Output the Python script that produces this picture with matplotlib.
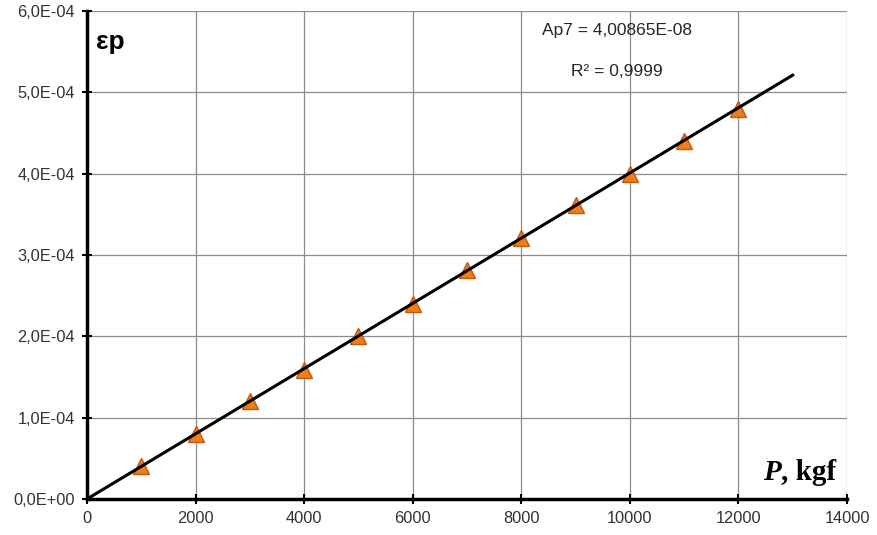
import matplotlib
matplotlib.use("Agg")
import matplotlib.pyplot as plt
import numpy as np
from matplotlib.ticker import FuncFormatter, MultipleLocator

P = [1000, 2000, 3000, 4000, 5000, 6000, 7000, 8000, 9000, 10000, 11000, 12000]
eps = [4.0e-5, 8.0e-5, 1.2e-4, 1.59e-4, 2.0e-4, 2.4e-4, 2.81e-4, 3.21e-4, 3.61e-4, 4.0e-4, 4.4e-4, 4.8e-4]
slope = 4.00865e-08
fit_x = [0, 13000]

plt.rcParams['font.family'] = ['Liberation Sans', 'DejaVu Sans']

fig = plt.figure(figsize=(8.78, 5.35), dpi=100)
ax = fig.add_axes([87/878, 1 - 499/535, (847-87)/878, (499-11)/535])

ax.set_xlim(0, 14000)
ax.set_ylim(0, 6e-4)
ax.xaxis.set_major_locator(MultipleLocator(2000))
ax.yaxis.set_major_locator(MultipleLocator(1e-4))
ax.grid(True, color='#8c8c8c', linewidth=0.9)
ax.set_axisbelow(True)

def yfmt(v, pos):
    s = "%.1E" % v
    return s.replace('.', ',')
ax.yaxis.set_major_formatter(FuncFormatter(yfmt))
ax.xaxis.set_major_formatter(FuncFormatter(lambda v, p: "%d" % v))

for s in ['top', 'right']:
    ax.spines[s].set_visible(False)
for s in ['left', 'bottom']:
    ax.spines[s].set_linewidth(2.5)
    ax.spines[s].set_color('black')
ax.tick_params(axis='both', direction='inout', length=7, width=1.5, labelsize=11.8,
               color='black', labelcolor='#333333')
ax.tick_params(axis='x', pad=5)
ax.tick_params(axis='y', pad=5)

ax.plot(P, eps, linestyle='none', marker='^', markersize=11,
        markerfacecolor='#F07D1A', markeredgecolor='#C0580E', markeredgewidth=1, zorder=3)
ax.plot(fit_x, [slope * x for x in fit_x], color='black', linewidth=2.2, zorder=4, clip_on=False)

ax.text(617/878, 1 - 31/535, "Ap7 = 4,00865E-08", transform=fig.transFigure,
        ha='center', va='center', fontsize=12.5, color='#262626')
ax.text(617/878, 1 - 71/535, "R² = 0,9999", transform=fig.transFigure,
        ha='center', va='center', fontsize=12.5, color='#262626')
ax.text(96/878, 1 - 42/535, "εp", transform=fig.transFigure,
        ha='left', va='center', fontsize=19, fontweight='bold')
ax.text(781/878, 1 - 472/535, ", kgf", transform=fig.transFigure,
        ha='left', va='center', fontsize=21, fontweight='bold', family='Liberation Serif')
ax.text(781/878, 1 - 472/535, "P", transform=fig.transFigure,
        ha='right', va='center', fontsize=21, fontweight='bold', fontstyle='italic',
        family='Liberation Serif')

fig.savefig("out.png", dpi=100)
